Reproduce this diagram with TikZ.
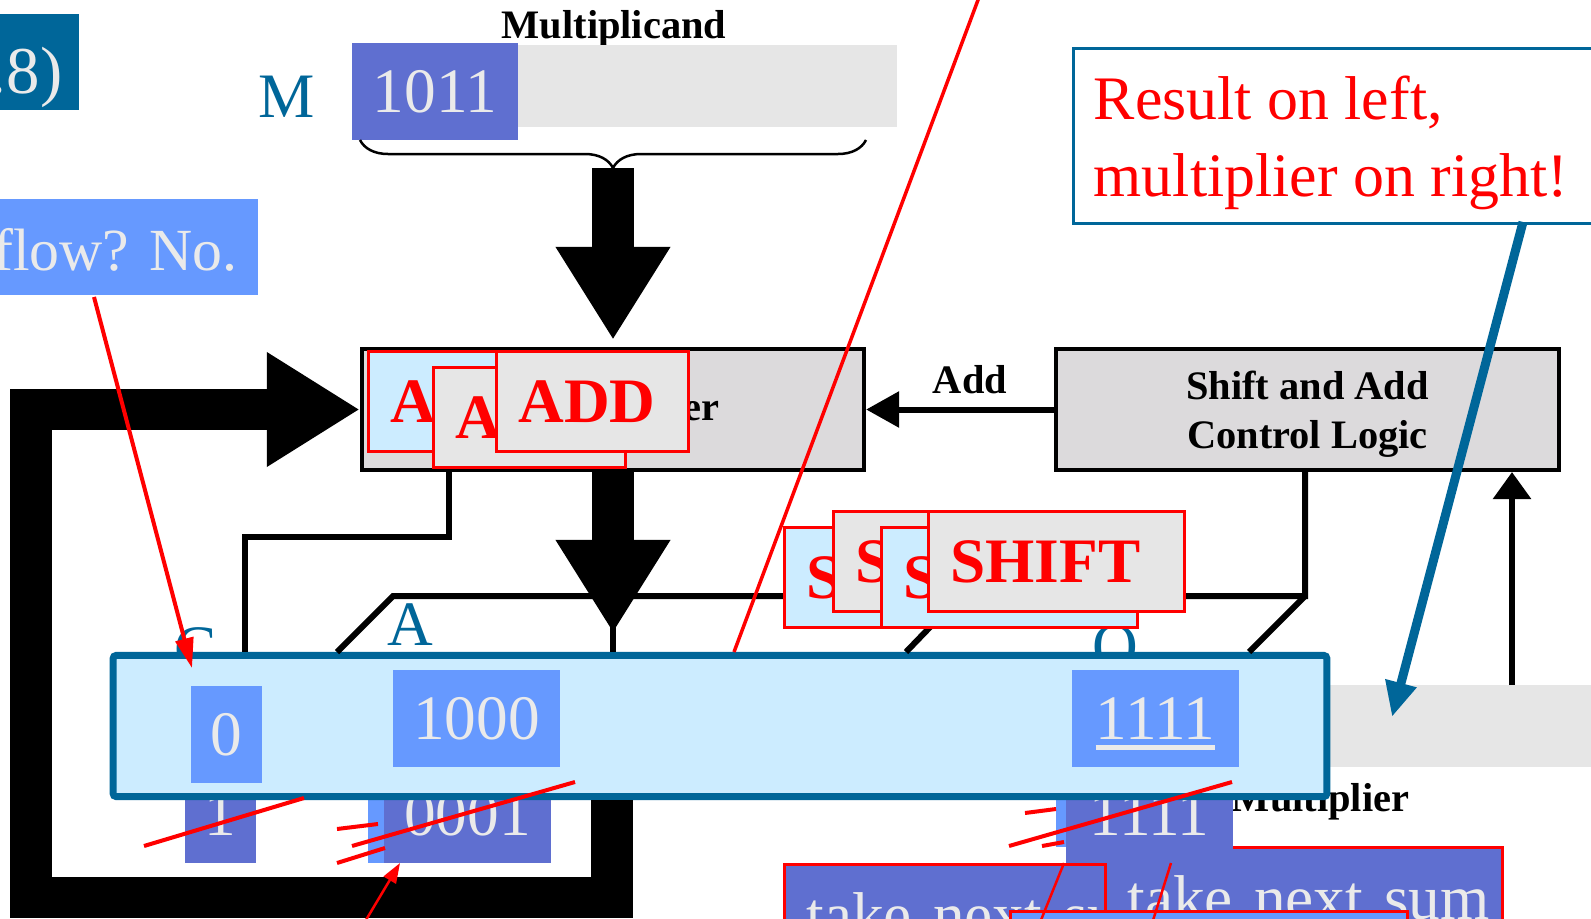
\documentclass[tikz,border=0pt]{standalone}
\usepackage{fontspec}
\setmainfont{Liberation Serif}
\usetikzlibrary{positioning,arrows.meta,decorations.pathreplacing}

\definecolor{regblue}{RGB}{0,102,153}
\definecolor{regfill}{RGB}{204,236,255}
\definecolor{celllight}{RGB}{102,153,255}
\definecolor{celldark}{RGB}{95,111,208}
\definecolor{cellgrey}{RGB}{230,230,230}
\definecolor{blockgrey}{RGB}{220,218,220}
\definecolor{digitgrey}{RGB}{234,234,234}

\newcommand{\bitsfont}{\fontsize{18}{21.6}\selectfont}
\newcommand{\labfont}{\fontsize{11.5}{14}\selectfont\bfseries}
\newcommand{\markfont}{\fontsize{18}{21.6}\selectfont\bfseries}
\newcommand{\ulbits}[1]{\setbox0\hbox{#1}\rlap{\rule[-0.16em]{\wd0}{0.07em}}\box0}

\begin{document}
\begin{tikzpicture}[x=0.01cm,y=-0.01cm,
  cell/.style={inner sep=0, text=digitgrey, font=\bitsfont},
  block/.style={draw, line width=0.04cm, fill=blockgrey, minimum width=5.02cm, minimum height=1.21cm, inner sep=0},
  wire/.style={line width=0.06cm},
  bus/.style={line width=0.41cm, line join=miter, -{Triangle[length=0.93cm,width=1.08cm]}},
  reglabel/.style={text=regblue, font=\bitsfont, inner sep=0, anchor=base},
  blocktext/.style={font=\labfont, inner sep=0},
  stamp/.style={draw=red, line width=0.03cm, minimum height=1cm, text width=#1, inner xsep=0.22cm, inner ysep=0, align=left, font=\markfont, text=red, anchor=north west},
  sumbox/.style={draw=red, line width=0.03cm, fill=celldark, minimum height=1cm, text width=3.53cm, inner xsep=0.22cm, inner ysep=0, align=left, font=\bitsfont, text=digitgrey, anchor=north west},
  strike/.style={red, line width=0.04cm}]
\fill[white] (0,0) rectangle (1591,918);
\useasboundingbox (0,0) rectangle (1591,918);

% slide fragments on the left
\node[fill=regblue, minimum width=0.79cm, minimum height=0.96cm, inner sep=0] (ex) at (39.5,62) {};
\node[text=digitgrey, font=\fontsize{19}{22}\selectfont, anchor=base east, inner sep=0] (exno) at (63,93) {.8)};
\node[fill=celllight, minimum width=2.58cm, minimum height=0.96cm, inner sep=0] (ovf) at (129,247) {};
\node[text=digitgrey, font=\fontsize{17}{20}\selectfont, anchor=base east, inner sep=0] (ovftext) at (238,270) {flow? No.};

% multiplicand register
\node[blocktext, anchor=base] (mname) at (614,38) {Multiplicand};
\node[fill=cellgrey, minimum width=5.45cm, minimum height=0.82cm, inner sep=0] (mreg) at (624.5,86) {};
\node[cell, fill=celldark, minimum width=1.66cm, minimum height=0.97cm] (mval) at (435,91.5) {1011};
\node[reglabel] (mlab) at (287,117) {M};
\draw[line width=0.025cm, decorate, decoration={brace, mirror, amplitude=0.28cm}] (360,140) -- (866,140);
\coordinate (mout) at (613,168);

% adder and control logic
\node[block] (adder) at (613,409.5) {};
\node[blocktext, anchor=base east] (addername) at (720,420) {Adder};
\node[block, align=center, font=\labfont, text depth=0pt] (ctrl) at (1307.5,409.5) {Shift and Add\\Control Logic};
\draw[bus, shorten >=0.07cm] (mout) -- (adder.north);
\draw[wire, -{Triangle[length=0.33cm,width=0.35cm]}] (ctrl.west) -- (adder.east);
\node[blocktext, anchor=base] (addlab) at (970,393) {Add};

% multiplier register
\node[fill=cellgrey, minimum width=2.9cm, minimum height=0.82cm, inner sep=0] (qreg) at (1455,726) {};
\coordinate (qin) at (1512,685);
\draw[wire, -{Triangle[length=0.27cm,width=0.37cm]}] (qin) -- (qin |- ctrl.south);
\node[blocktext, anchor=base east] (qname) at (1410,811) {Multiplier};

\node[reglabel] (clab) at (196,669) {C};
\node[reglabel] (alab) at (410,645) {A};
\node[reglabel] (qlab) at (1115,667) {Q};

% take next sum
\node[sumbox] (sum1) at (783,863) {\mbox{take next sum}};
\node[sumbox] (sum2) at (1104,846) {\mbox{take next sum}};

% old contents
\node[cell, fill=celldark, minimum width=0.71cm, minimum height=0.97cm] (cold) at (220.5,814.5) {1};
\node[fill=celllight, minimum width=1.67cm, minimum height=0.97cm, inner sep=0] (aback) at (451.5,814.5) {};
\node[cell, fill=celldark, minimum width=1.67cm, minimum height=0.97cm] (aold) at (467.5,814.5) {0001};
\node[fill=celllight, minimum width=1.66cm, minimum height=0.97cm, inner sep=0] (qback) at (1139,798.5) {};
\node[cell, fill=celldark, minimum width=1.67cm, minimum height=0.97cm] (qold) at (1149.5,814.5) {1111};

% C, A, Q register
\node[draw=regblue, fill=regfill, line width=0.07cm, rounded corners=0.03cm, minimum width=12.13cm, minimum height=1.41cm, inner sep=0] (reg) at (720,726) {};
\node[cell, fill=celllight, minimum width=0.71cm, minimum height=0.97cm] (cval) at (226.5,734.5) {0};
\node[cell, fill=celllight, minimum width=1.67cm, minimum height=0.97cm] (aval) at (476.5,718.5) {1000};
\node[cell, fill=celllight, minimum width=1.67cm, minimum height=0.97cm, text depth=0pt] (qval) at (1155.5,718.5) {\ulbits{1111}};

% wiring
\coordinate (cout) at (449,472);
\coordinate (shiftout) at (1305,472);
\coordinate (aout) at (612,800);
\draw[wire] (cout) |- (245,537) -- (245,652);
\draw[wire] (shiftout) |- (393,596) -- (337,652);
\draw[wire] (1305,596) -- (1249,652);
\draw[wire] (960,596) -- (906,652);
\draw[wire] (adder.south) -- (613,652);
\draw[bus, shorten >=0.19cm] (adder.south) -- (613,652);
\draw[bus] (aout) -- (612,897) -- (31,897) -- (31,409.5) -- (adder.west);

% crossed out values
\draw[strike] (337,829) -- (378,824);
\draw[strike] (337,863) -- (385,848);
\draw[strike] (144,846) -- (304,798);
\draw[strike] (352,846) -- (575,782);
\draw[strike] (1025,813) -- (1056,809);
\draw[strike] (1042,846) -- (1064,842);
\draw[strike] (1009,846) -- (1232,782);

% animation stamps
\node[stamp=1.48cm, fill=regfill] (add1) at (367,350) {A};
\node[stamp=1.48cm, fill=cellgrey] (add2) at (432,366) {A};
\node[stamp=1.48cm, fill=cellgrey] (add3) at (495,350) {ADD};
\node[stamp=2.12cm, fill=regfill] (shift1) at (783,526) {S};
\node[stamp=2.12cm, fill=cellgrey] (shift2) at (832,510) {S};
\node[stamp=2.12cm, fill=regfill] (shift3) at (880,526) {S};
\node[stamp=2.12cm, fill=cellgrey] (shift4) at (927,510) {SHIFT};

\node[sumbox, fill=celllight] (sum3) at (1009,910) {};
\draw[red, line width=0.025cm] (1064,863) -- (1037,930);
\draw[red, line width=0.025cm] (1171,863) -- (1150,930);

% pointers
\coordinate (ovfout) at (94,297);
\coordinate (ctip) at (192,668);
\draw[red, line width=0.04cm, -{Triangle[length=0.3cm,width=0.18cm]}] (ovfout) -- (ctip);
\coordinate (low) at (360,930);
\draw[red, line width=0.025cm, -{Triangle[length=0.2cm,width=0.14cm]}] (low) -- (400,863);
\draw[red, line width=0.035cm] (734,652) -- (981,-8);

\node[draw=regblue, fill=white, line width=0.025cm, minimum width=5.4cm, minimum height=1.75cm, anchor=north west, inner sep=0] (note) at (1072,47) {};
\node[text=red, font=\fontsize{17.6}{21.9}\selectfont, align=left, anchor=north west, inner sep=0] (notetext) at (1093,75) {Result on left,\\multiplier on right!};
\coordinate (noteout) at (1523,222);
\coordinate (qtip) at (1392,717);
\draw[regblue, line width=0.09cm, -{Triangle[length=0.35cm,width=0.3cm]}] (noteout) -- (qtip);
\end{tikzpicture}
\end{document}
